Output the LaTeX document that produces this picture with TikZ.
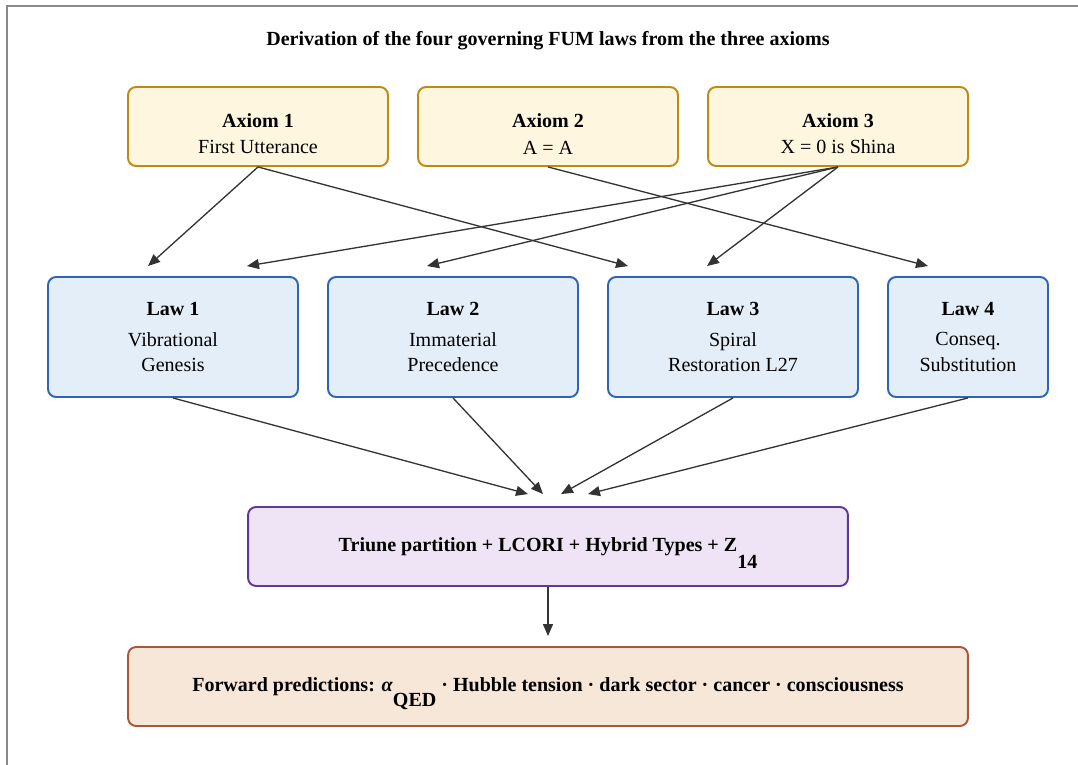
\documentclass[tikz,border=0pt]{standalone}
\usepackage{fontspec}
\setmainfont{Liberation Serif}
\usetikzlibrary{arrows.meta,positioning}
\definecolor{axfill}{HTML}{FEF6DF}
\definecolor{axdraw}{HTML}{BF8A12}
\definecolor{lawfill}{HTML}{E3EEF9}
\definecolor{lawdraw}{HTML}{2F64B5}
\definecolor{trifill}{HTML}{EEE4F6}
\definecolor{tridraw}{HTML}{5C3A96}
\definecolor{fwdfill}{HTML}{F7E7D8}
\definecolor{fwddraw}{HTML}{A9573A}
\definecolor{arrgray}{HTML}{333333}
\definecolor{framegray}{HTML}{8A8A8A}
\begin{document}
\begin{tikzpicture}[x=0.02cm,y=-0.02cm,>={Triangle[length=0.24cm,width=0.2cm]},
box/.style={draw,rounded corners=0.16cm,line width=1.1pt,align=center,inner sep=0pt,font=\fontsize{11.4}{14.3}\selectfont},
axiom/.style={box,draw=axdraw,fill=axfill,minimum width=5.2cm,minimum height=1.58cm},
law/.style={box,draw=lawdraw,fill=lawfill,minimum width=5cm,minimum height=2.4cm},
arr/.style={->,draw=arrgray,line width=0.75pt}]
\def\ax#1#2{\rule{0pt}{1.45em}\textbf{Axiom #1}\\[0.02cm]#2}
\def\lw#1#2#3{\textbf{Law #1}\\[0.1cm]#2\\#3}
\useasboundingbox (0,0) rectangle (1078,764);
\draw[framegray,line width=1.2pt] (7,6) rectangle (1100,790);
\node[font=\bfseries\fontsize{11.4}{13}\selectfont] (title) at (548,41) {Derivation of the four governing FUM laws from the three axioms};
\node[axiom] (ax1) at (258,126.5) {\ax{1}{First Utterance}};
\node[axiom] (ax2) at (548,126.5) {\ax{2}{A = A}};
\node[axiom] (ax3) at (838,126.5) {\ax{3}{X = 0 is Shina}};
\node[law] (law1) at (173,337) {\lw{1}{Vibrational}{Genesis}};
\node[law] (law2) at (453,337) {\lw{2}{Immaterial}{Precedence}};
\node[law] (law3) at (733,337) {\lw{3}{Spiral}{Restoration L27}};
\node[law,minimum width=3.2cm] (law4) at (968,337) {\lw{4}{Conseq.}{Substitution}};
\node[box,draw=tridraw,fill=trifill,minimum width=12cm,minimum height=1.58cm,font=\bfseries\fontsize{11.4}{13.8}\selectfont] (tri) at (548,546.5) {Triune partition + LCORI + Hybrid Types + Z\smash{\raisebox{-0.85em}{14}}};
\node[box,draw=fwddraw,fill=fwdfill,minimum width=16.8cm,minimum height=1.58cm,font=\bfseries\fontsize{11.4}{13.8}\selectfont] (fwd) at (548,686.5) {Forward predictions: \textit{α}\smash{\raisebox{-0.75em}{QED}} · Hubble tension · dark sector · cancer · consciousness};
\foreach \s/\t/\d in {ax1/law1/-0.5,ax1/law3/-2.1,ax2/law4/-0.8,ax3/law1/1.48,ax3/law2/-0.52,ax3/law3/-0.52}
\draw[arr] (\s.south) -- ([xshift=\d cm,yshift=0.2cm]\t.north);
\foreach \s/\d in {law1/-0.4,law2/-0.1,law3/0.26,law4/0.8}
\draw[arr] (\s.south) -- ([xshift=\d cm,yshift=0.24cm]tri.north);
\draw[arr] (tri) -- ([yshift=0.2cm]fwd.north);
\end{tikzpicture}
\end{document}
